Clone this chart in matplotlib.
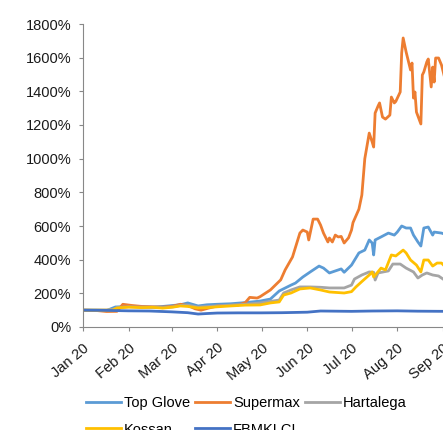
import matplotlib
matplotlib.use("Agg")
import matplotlib.pyplot as plt
import matplotlib.dates as mdates
import pandas as pd
from matplotlib.ticker import FuncFormatter, MultipleLocator

plt.rcParams['font.family'] = ['Liberation Sans', 'DejaVu Sans']
plt.rcParams['font.size'] = 10.5

# ---- data (values in % of 1 Jan 2020 level) ----
tg_dates = ["2020-01-01","2020-01-10","2020-01-17","2020-01-23","2020-02-01","2020-02-10","2020-02-17","2020-02-24",
            "2020-03-02","2020-03-07","2020-03-12","2020-03-19","2020-03-25","2020-04-01","2020-04-10","2020-04-20",
            "2020-04-30","2020-05-07","2020-05-13","2020-05-21","2020-05-24","2020-05-29","2020-06-03","2020-06-09",
            "2020-06-12","2020-06-16","2020-06-22","2020-06-24","2020-06-26","2020-07-01","2020-07-06","2020-07-10",
            "2020-07-13","2020-07-15","2020-07-16","2020-07-17","2020-07-21","2020-07-26","2020-07-30","2020-08-01",
            "2020-08-04","2020-08-07","2020-08-10","2020-08-12","2020-08-15","2020-08-17","2020-08-19","2020-08-22",
            "2020-08-25","2020-08-26","2020-08-31","2020-09-02"]
tg_vals = [100,100,98,119,122,120,118,122,
           128,132,143,125,132,135,138,145,
           154,166,214,249,261,297,327,362,
           350,321,339,345,325,368,440,457,
           517,499,428,517,535,558,546,564,
           600,588,588,546,505,481,588,594,
           546,564,558,552]

sm_dates = ["2020-01-01","2020-01-10","2020-01-17","2020-01-24","2020-01-28","2020-02-03","2020-02-10","2020-02-17",
            "2020-02-24","2020-03-02","2020-03-07","2020-03-12","2020-03-17","2020-03-21","2020-03-26","2020-04-01",
            "2020-04-08","2020-04-15","2020-04-20","2020-04-23","2020-04-28","2020-04-30","2020-05-07","2020-05-14",
            "2020-05-17","2020-05-22","2020-05-27","2020-05-29","2020-06-01","2020-06-02","2020-06-05","2020-06-08",
            "2020-06-10","2020-06-12","2020-06-15","2020-06-16","2020-06-18","2020-06-20","2020-06-22","2020-06-24",
            "2020-06-26","2020-06-29","2020-07-01","2020-07-02","2020-07-06","2020-07-08","2020-07-10","2020-07-13",
            "2020-07-15","2020-07-16","2020-07-17","2020-07-19","2020-07-20","2020-07-22","2020-07-24","2020-07-27",
            "2020-07-28","2020-07-30","2020-07-31","2020-08-03","2020-08-04","2020-08-05","2020-08-07","2020-08-10",
            "2020-08-11","2020-08-12","2020-08-13","2020-08-14","2020-08-17","2020-08-18","2020-08-19","2020-08-21",
            "2020-08-22","2020-08-24","2020-08-25","2020-08-26","2020-08-27","2020-08-29","2020-08-31","2020-09-02"]
sm_vals = [100,98,92,93,135,128,122,120,
           118,124,135,128,108,100,112,125,
           128,130,145,176,172,180,220,280,
           339,416,558,576,564,517,641,641,
           606,558,505,529,505,546,535,538,
           499,530,576,620,700,784,1000,1152,
           1099,1069,1271,1313,1331,1247,1235,1259,
           1366,1331,1340,1396,1628,1717,1634,1527,
           1568,1360,1396,1277,1206,1497,1515,1574,
           1592,1426,1544,1455,1598,1598,1556,1485]

ht_dates = ["2020-01-01","2020-01-10","2020-01-21","2020-01-24","2020-02-01","2020-02-10","2020-02-17","2020-02-24",
            "2020-03-02","2020-03-07","2020-03-12","2020-03-19","2020-03-25","2020-04-01","2020-04-10","2020-04-20",
            "2020-04-30","2020-05-13","2020-05-16","2020-05-21","2020-05-27","2020-06-03","2020-06-10","2020-06-16",
            "2020-06-26","2020-07-01","2020-07-03","2020-07-08","2020-07-13","2020-07-16","2020-07-17","2020-07-19",
            "2020-07-26","2020-07-29","2020-08-03","2020-08-07","2020-08-12","2020-08-15","2020-08-18","2020-08-21",
            "2020-08-25","2020-08-29","2020-09-02"]
ht_vals = [100,100,102,115,120,118,118,115,
           120,128,130,118,122,125,130,135,
           143,160,202,220,238,238,236,232,
           232,249,285,309,327,325,279,321,
           333,374,374,350,327,291,309,321,
           309,303,279]

ks_dates = ["2020-01-01","2020-01-10","2020-01-21","2020-01-24","2020-02-01","2020-02-10","2020-02-17","2020-02-24",
            "2020-03-02","2020-03-07","2020-03-12","2020-03-19","2020-03-25","2020-04-01","2020-04-10","2020-04-20",
            "2020-04-30","2020-05-07","2020-05-13","2020-05-16","2020-05-21","2020-05-27","2020-06-03","2020-06-10",
            "2020-06-16","2020-06-26","2020-07-01","2020-07-04","2020-07-08","2020-07-13","2020-07-15","2020-07-16",
            "2020-07-21","2020-07-24","2020-07-28","2020-07-31","2020-08-05","2020-08-07","2020-08-10","2020-08-14",
            "2020-08-17","2020-08-19","2020-08-22","2020-08-25","2020-08-28","2020-08-31","2020-09-02"]
ks_vals = [100,100,100,113,118,115,117,112,
           118,125,122,113,115,120,125,130,
           131,143,149,190,202,226,232,220,
           208,202,210,238,270,309,327,297,
           350,339,428,422,457,440,398,368,
           327,398,398,362,380,380,362]

kl_dates = ["2020-01-01","2020-01-15","2020-02-01","2020-02-15","2020-03-01","2020-03-12","2020-03-19","2020-03-25",
            "2020-04-01","2020-04-15","2020-05-01","2020-05-15","2020-06-01","2020-06-10","2020-07-01","2020-07-15",
            "2020-08-01","2020-08-15","2020-09-02"]
kl_vals = [100,99,96,95,90,85,77,80,
           83,84,84,85,88,95,93,95,
           96,94,93]

series = [
    ("Top Glove", tg_dates, tg_vals, "#5B9BD5"),
    ("Supermax", sm_dates, sm_vals, "#ED7D31"),
    ("Hartalega", ht_dates, ht_vals, "#A5A5A5"),
    ("Kossan", ks_dates, ks_vals, "#FFC000"),
    ("FBMKLCI", kl_dates, kl_vals, "#4472C4"),
]

fig = plt.figure(figsize=(4.43, 4.30), dpi=100)
ax = fig.add_axes([83/443, 103/430, 360/443, 303/430])

handles = {}
for name, d, v, c in series:
    (ln,) = ax.plot(pd.to_datetime(d), v, color=c, lw=2.0, label=name, solid_joinstyle='round')
    handles[name] = ln

ax.set_ylim(0, 1800)
ax.set_xlim(pd.Timestamp("2020-01-01"), pd.Timestamp("2020-09-01"))
ax.yaxis.set_major_locator(MultipleLocator(200))
ax.yaxis.set_major_formatter(FuncFormatter(lambda v, p: f"{int(v)}%"))
ax.xaxis.set_major_locator(mdates.MonthLocator())
ax.xaxis.set_major_formatter(mdates.DateFormatter("%b %y"))

for s in ["top", "right"]:
    ax.spines[s].set_visible(False)
for s in ["left", "bottom"]:
    ax.spines[s].set_color("#888888")
    ax.spines[s].set_linewidth(0.8)
ax.tick_params(axis="both", colors="#888888", length=3, width=0.8, labelcolor="#1a1a1a", labelsize=10.5)
ax.tick_params(axis="y", pad=5.5)
ax.tick_params(axis="x", pad=7)
for lab in ax.get_xticklabels():
    lab.set_rotation(40)
    lab.set_ha("right")
    lab.set_va("top")
    lab.set_rotation_mode("anchor")

order = ["Top Glove", "Kossan", "Supermax", "FBMKLCI", "Hartalega"]
leg = fig.legend([handles[n] for n in order], order, ncol=3, frameon=False,
                 loc="upper left", bbox_to_anchor=(86/443, 1 - 396/430),
                 handlelength=2.4, handletextpad=0.2, columnspacing=0.35,
                 labelspacing=0.86, borderpad=0, borderaxespad=0, fontsize=10.5)

fig.savefig("out.png", dpi=100)
